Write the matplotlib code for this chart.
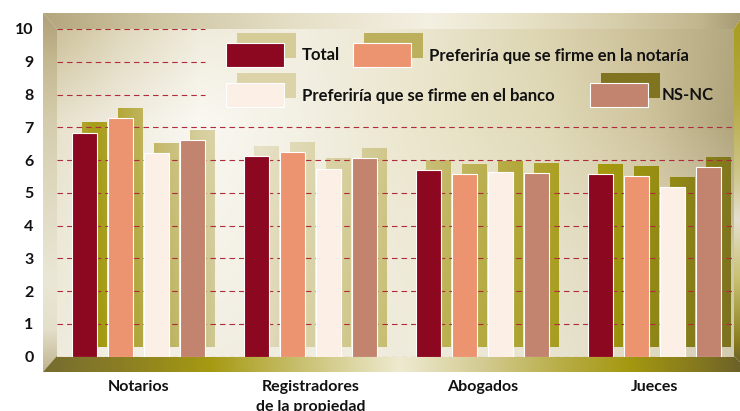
import numpy as np
import matplotlib
matplotlib.use('Agg')
import matplotlib.pyplot as plt
from matplotlib.patches import Rectangle, Polygon
from matplotlib.colors import to_rgb

# ---------------- data ----------------
categories = ["Notarios", "Registradores\nde la propiedad", "Abogados", "Jueces"]
series_names = ["Total", "Preferiría que se firme en la notaría",
                "Preferiría que se firme en el banco", "NS-NC"]
total = [6.84, 6.12, 5.69, 5.58]
notaria = [7.29, 6.25, 5.57, 5.51]
banco = [6.21, 5.74, 5.65, 5.18]
nsnc = [6.60, 6.06, 5.61, 5.79]
y_ticks = list(range(0, 11))

series_values = [total, notaria, banco, nsnc]
bar_colors = ['#8c0820', '#ec9470', '#fcefe6', '#c2846e']

plt.rcParams['font.family'] = ['Lato', 'DejaVu Sans']

W, H = 740, 411
fig = plt.figure(figsize=(7.4, 4.11), dpi=100)

# plot box geometry (pixels)
L, R, T, B = 57, 734, 29, 356.7
XL0, XL1 = -0.473, 3.463
YL0, YL1 = 0, 10


def hexarr(cols):
    return np.array([to_rgb(c) for c in cols])


def interp1(pos, ctrl_pos, ctrl_cols):
    c = hexarr(ctrl_cols)
    return np.stack([np.interp(pos, ctrl_pos, c[:, k]) for k in range(3)], axis=-1)


def field(px, py, xs, ys, grid):
    rows = np.stack([interp1(px, xs, g) for g in grid])  # (ny, nx, 3)
    out = np.empty((len(py), len(px), 3))
    for k in range(3):
        for j in range(len(px)):
            out[:, j, k] = np.interp(py, ys, rows[:, j, k])
    return out


# ---------------- background decoration axes ----------------
bg = fig.add_axes([0, 0, 1, 1], zorder=0)
bg.axis('off')


def grad_poly(axis, verts, img, extent):
    poly = Polygon(verts, closed=True, fc='none', ec='none', transform=axis.transData)
    axis.add_patch(poly)
    im = axis.imshow(img, extent=extent, aspect='auto', interpolation='bilinear',
                     origin='upper', zorder=1)
    im.set_clip_path(poly)


# ceiling
cx = np.linspace(43, 740, 300)
ceil_row = interp1(cx, [43, 150, 300, 430, 520, 620, 700, 740],
                   ['#b4a67e', '#cdc4a0', '#e6e0c8', '#f4f0e2', '#e8e2c8', '#d6cdaa', '#c2b68e', '#a89c74'])
grad_poly(bg, [(43, 13), (740, 13), (740, 20), (734, 29), (57, 29)],
          ceil_row[None, :, :], (43, 740, 29, 13))
# left wall
ly = np.linspace(13, 372, 300)
lw_col = interp1(ly, [13, 60, 120, 200, 280, 330, 372],
                 ['#aea078', '#c4b890', '#d4ccac', '#e0dac2', '#ebe7d6', '#e4dfca', '#c0b490'])
grad_poly(bg, [(43, 13), (57, 29), (57, 357), (43, 372)],
          lw_col[:, None, :], (43, 57, 372, 13))
# floor
fx = np.linspace(43, 740, 300)
floor_row = interp1(fx, [43, 120, 210, 300, 400, 480, 560, 630, 700, 740],
                    ['#766c30', '#8a7e24', '#a69a12', '#c8c070', '#eeead0', '#d4cc94',
                     '#b8ae48', '#a49810', '#847820', '#6c6228'])
grad_poly(bg, [(57, 356), (734, 356), (740, 362), (740, 372), (43, 372)],
          floor_row[None, :, :], (43, 740, 372, 356))
# right wall
ry = np.linspace(20, 362, 300)
rw_col = interp1(ry, [20, 100, 180, 220, 280, 340, 362],
                 ['#a89c20', '#b4a840', '#d0c890', '#e4e0d0', '#c8c070', '#8c8020', '#6c6228'])
grad_poly(bg, [(734, 29), (740, 20), (740, 362), (734, 356)],
          rw_col[:, None, :], (734, 740, 362, 20))
bg.set_xlim(0, W)
bg.set_ylim(H, 0)

# ---------------- main axes ----------------
ax = fig.add_axes([L / W, 1 - B / H, (R - L) / W, (B - T) / H], zorder=5)
ax.set_facecolor('none')

# back wall gradient
wx = np.linspace(L, R, 200)
wy = np.linspace(T, B, 120)
wall = field(wx, wy,
             [57, 120, 200, 300, 420, 550, 650, 734],
             [29, 120, 250, 357],
             [['#cdc29c', '#e0d8bc', '#f0ecdc', '#f2eee0', '#ebe6cf', '#dcd4b0', '#cabe96', '#b4a880'],
              ['#e8e2cc', '#f0ece0', '#faf8f2', '#f3f0e4', '#ebe5cb', '#e0dab8', '#cfc39c', '#b0a47c'],
              ['#ede9d8', '#f3f0e6', '#f6f3ea', '#f2efe3', '#eee9d6', '#e6e1c8', '#dcd5b8', '#cfc6a4'],
              ['#efebdc', '#f2efe4', '#f2eee2', '#f0ece0', '#f0ecdc', '#e8e4cf', '#e0dac2', '#d4ccb0']])
ax.imshow(wall, extent=(0, 1, 0, 1), transform=ax.transAxes, aspect='auto',
          interpolation='bilinear', origin='upper', zorder=0)

n_series = len(series_values)
group_x = np.arange(len(categories))
bar_w = 0.145
step = 0.209
sh_dx, sh_dy = 0.06, 0.29

sh_xs = [57, 95, 150, 200, 260, 330, 400, 460, 540, 600, 660, 740]
sh_top = ['#c0b460', '#a89c18', '#c4b868', '#d8d0a0', '#e8e2c8', '#dcd4a8',
          '#d0c890', '#c4b868', '#b0a430', '#a89c10', '#9a9012', '#807620']
sh_bot = ['#b0a440', '#a09808', '#b4aa48', '#c8c080', '#e0dac0', '#d4cc98',
          '#c4ba68', '#b8ae48', '#aaa028', '#a09808', '#8c8418', '#7a7020']


def d2px(x, y):
    px = L + (x - XL0) / (XL1 - XL0) * (R - L)
    py = B - (y - YL0) / (YL1 - YL0) * (B - T)
    return px, py


for i, (vals, col) in enumerate(zip(series_values, bar_colors)):
    xs = group_x + (i - (n_series - 1) / 2) * step
    # shadows
    for xc, v in zip(xs, vals):
        x0 = xc - bar_w / 2 + sh_dx
        x1 = x0 + bar_w
        y0, y1 = sh_dy, v + sh_dy
        p0, q1 = d2px(x0, y1)
        p1, q0 = d2px(x1, y0)
        img = field(np.linspace(p0, p1, 12), np.linspace(q1, q0, 30),
                    sh_xs, [100, 357], [sh_top, sh_bot])
        ax.imshow(img, extent=(x0, x1, y0, y1), aspect='auto', origin='upper',
                  interpolation='bilinear', zorder=1)
    ax.bar(xs, vals, width=bar_w, color=col, edgecolor='white', linewidth=0.8,
           zorder=3, label=series_names[i])

# gridlines
for yv in y_ticks:
    xmax = (205 - L) / (R - L) if yv >= 8 else 1
    ax.axhline(yv, xmin=0, xmax=xmax, color='#b02c3c', lw=0.8,
               linestyle=(0, (5, 3.6)), zorder=2)

ax.set_xlim(XL0, XL1)
ax.set_ylim(YL0, YL1)
ax.set_yticks(y_ticks)
ax.set_yticklabels([str(v) for v in y_ticks])
ax.set_xticks(group_x)
ax.set_xticklabels(categories, linespacing=1.5)
ax.tick_params(axis='y', length=0, pad=17, labelsize=11.5, labelcolor='#111111')
ax.tick_params(axis='x', length=0, pad=17, labelsize=11.5, labelcolor='#111111')
for lab in ax.get_xticklabels() + ax.get_yticklabels():
    lab.set_fontweight('bold')
for s in ax.spines.values():
    s.set_visible(False)

# ---------------- legend (overlay) ----------------
ov = fig.add_axes([0, 0, 1, 1], zorder=10)
ov.axis('off')
ov.patch.set_alpha(0)
ov.set_xlim(0, W)
ov.set_ylim(H, 0)
leg_pos = [(226, 43, 302), (353, 43, 429), (226, 83, 302), (590, 83, 662)]
leg_shadow = ['#d6cc98', '#bcb05c', '#dcd4a8', '#807420']
for (px, py, tx), name, col, shc in zip(leg_pos, series_names, bar_colors, leg_shadow):
    ov.add_patch(Rectangle((px + 11, py - 10), 59, 25, fc=shc, ec='none', zorder=1))
    ov.add_patch(Rectangle((px, py), 58, 24, fc=col, ec='white', lw=0.8, zorder=2))
    ov.text(tx, py + 12.5, name, fontsize=12, va='center', ha='left',
            color='#111111', fontweight='bold', zorder=3)

fig.savefig('out.png', dpi=100)
